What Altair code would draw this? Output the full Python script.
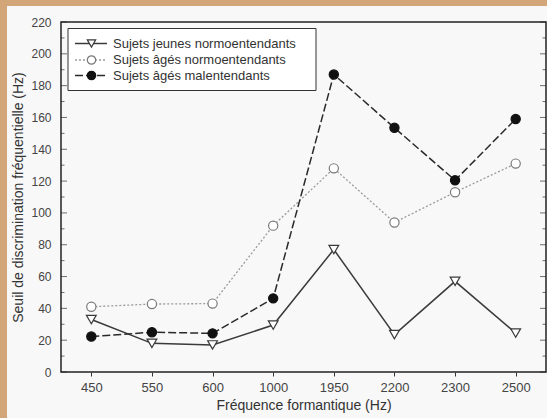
import altair as alt
import pandas as pd

freqs = ["450", "550", "600", "1000", "1950", "2200", "2300", "2500"]
jeunes = [33, 18, 17, 29.5, 77, 23.5, 57, 24.5]
ages_normo = [41, 42.7, 43, 92, 128, 94, 113, 131]
ages_mal = [22.3, 25, 24.3, 46.3, 187, 153.5, 120.5, 159]
series = ["Sujets jeunes normoentendants", "Sujets âgés normoentendants", "Sujets âgés malentendants"]
major_ticks = list(range(0, 221, 20))
minor_ticks = list(range(10, 220, 20))

rows = []
for s, vals in zip(series, [jeunes, ages_normo, ages_mal]):
    for f, v in zip(freqs, vals):
        rows.append({"freq": f, "value": v, "series": s})
df = pd.DataFrame(rows)

W, H = 485, 350
FONT = "Liberation Sans"
ORANGE = "#D2A679"

styles = [
    dict(line=dict(stroke="#3a3a3a", strokeWidth=1.5),
         point=dict(shape="triangle-down", fill="white", stroke="#3a3a3a", size=95)),
    dict(line=dict(stroke="#9a9a9a", strokeWidth=1.3, strokeDash=[2, 2]),
         point=dict(shape="circle", fill="white", stroke="#7a7a7a", size=85)),
    dict(line=dict(stroke="#2a2a2a", strokeWidth=1.5, strokeDash=[8, 3]),
         point=dict(shape="circle", fill="#111111", stroke="#111111", size=85)),
]

one = pd.DataFrame({"a": [0]})

strip_left = alt.Chart(one).mark_rect(color=ORANGE).encode(
    x=alt.value(-61), x2=alt.value(-54), y=alt.value(-22), y2=alt.value(H + 46)
)
strip_top = alt.Chart(one).mark_rect(color=ORANGE).encode(
    x=alt.value(-61), x2=alt.value(W + 1), y=alt.value(-22), y2=alt.value(-16)
)

yscale = alt.Scale(domain=[0, 220], nice=False, zero=True)
yaxis = alt.Axis(title="Seuil de discrimination fréquentielle (Hz)", values=major_ticks,
                 ticks=False, domain=False, labelPadding=10, titlePadding=5,
                 grid=False, zindex=1, labelFontSize=12)

base = alt.Chart(df).encode(
    x=alt.X("freq:N", sort=freqs, scale=alt.Scale(type="point", padding=0.5),
            axis=alt.Axis(title="Fréquence formantique (Hz)", labelAngle=0, domain=False,
                          ticks=True, tickSize=4, tickColor="#333", labelPadding=5,
                          titlePadding=4, grid=False, zindex=1, labelFontSize=13)),
    y=alt.Y("value:Q", scale=yscale, axis=yaxis),
)

layers = [strip_left, strip_top]
for s, st in zip(series, styles):
    layers.append(base.transform_filter(alt.datum.series == s).mark_line(**st["line"]))
for s, st in zip(series, styles):
    layers.append(base.transform_filter(alt.datum.series == s).mark_point(
        filled=True, opacity=1, strokeWidth=1.2, **st["point"]))

major_df = pd.DataFrame({"value": major_ticks})
minor_df = pd.DataFrame({"value": minor_ticks})
for d, ln in [(major_df, 6), (minor_df, 3.5)]:
    for xc in [ln / 2, W - ln / 2]:
        layers.append(alt.Chart(d).mark_tick(orient="horizontal", size=ln, thickness=1, color="#333").encode(
            y=alt.Y("value:Q", scale=yscale, axis=yaxis), x=alt.value(xc)))

frame = alt.Chart(one).mark_rect(fillOpacity=0, stroke="#222", strokeWidth=1.5).encode(
    x=alt.value(0), x2=alt.value(W), y=alt.value(0), y2=alt.value(H)
)
layers.append(frame)

legend_box = alt.Chart(one).mark_rect(fill="white", stroke="#333", strokeWidth=1).encode(
    x=alt.value(7), x2=alt.value(255), y=alt.value(6.5), y2=alt.value(68.5)
)
layers.append(legend_box)
ly = [21.5, 38, 53.5]
for i, (s, st) in enumerate(zip(series, styles)):
    layers.append(alt.Chart(one).mark_rule(**st["line"]).encode(
        x=alt.value(14), x2=alt.value(46), y=alt.value(ly[i])))
    pst = dict(st["point"])
    pst["size"] = 70
    layers.append(alt.Chart(one).mark_point(filled=True, opacity=1, strokeWidth=1.2, **pst).encode(
        x=alt.value(30.5), y=alt.value(ly[i])))
    layers.append(alt.Chart(one).mark_text(align="left", baseline="middle", fontSize=13, font=FONT,
                                           color="#333").encode(
        x=alt.value(52), y=alt.value(ly[i]), text=alt.value(s)))

chart = alt.layer(*layers).properties(
    width=W, height=H,
    background="#F8F8F8",
    padding={"left": 61, "top": 22, "right": 1, "bottom": 46},
    autosize=alt.AutoSizeParams(type="none"),
).configure_view(strokeWidth=0).configure_axis(
    labelFont=FONT, titleFont=FONT, labelColor="#444", titleColor="#333",
    titleFontSize=14, titleFontWeight="normal"
)

chart.save("out.html", embed_options={"renderer": "svg", "actions": False})
